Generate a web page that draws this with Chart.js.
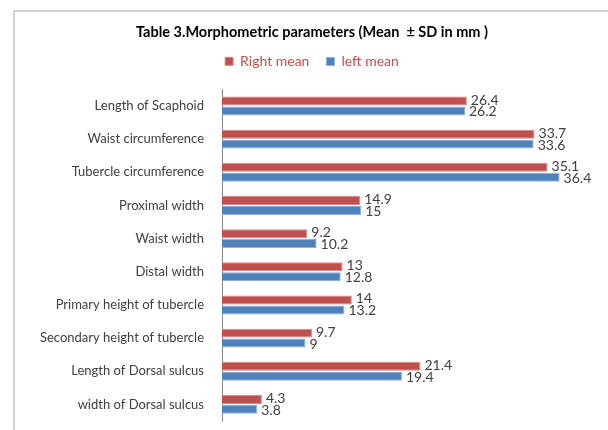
<!DOCTYPE html>
<html lang="en">
<head>
    <meta charset="UTF-8">
    <title>Morphometric parameters</title>
    <script src="https://cdn.jsdelivr.net/npm/chart.js"></script>
    <style>
        html, body { margin: 0; padding: 0; background: #fff; }
        #wrap {
            position: absolute; left: 13px; top: 10px;
            width: 595px; height: 420px;
            border-top: 2px solid #d4d4d4; border-left: 2px solid #d4d4d4;
        }
        #myChart { position: absolute; left: 0; top: 0; }
    </style>
</head>
<body>
    <div id="wrap"></div>
    <canvas id="myChart" width="608" height="430"></canvas>

    <script>
        const categories = [
            'Length of Scaphoid', 'Waist circumference', 'Tubercle circumference',
            'Proximal width', 'Waist width', 'Distal width',
            'Primary height of tubercle', 'Secondary height of tubercle',
            'Length of Dorsal sulcus', 'width of Dorsal sulcus'
        ];
        const rightMean = [26.4, 33.7, 35.1, 14.9, 9.2, 13, 14, 9.7, 21.4, 4.3];
        const leftMean = [26.2, 33.6, 36.4, 15, 10.2, 12.8, 13.2, 9, 19.4, 3.8];

        const fontFamily = 'Lato, "Open Sans", sans-serif';

        // value labels just past the end of each bar
        const valueLabels = {
            id: 'valueLabels',
            afterDatasetsDraw(chart) {
                const ctx = chart.ctx;
                ctx.save();
                ctx.font = '14px ' + fontFamily;
                ctx.fillStyle = '#404040';
                ctx.textAlign = 'left';
                ctx.textBaseline = 'middle';
                chart.data.datasets.forEach((ds, i) => {
                    const meta = chart.getDatasetMeta(i);
                    meta.data.forEach((bar, j) => {
                        const shift = i === 0 ? -1 : 1;
                        ctx.fillText(String(ds.data[j]), bar.x + 4, bar.y + shift);
                    });
                });
                ctx.restore();
            }
        };

        // a bit more room under the legend
        const legendGap = {
            id: 'legendGap',
            beforeInit(chart) {
                const fit = chart.legend.fit;
                chart.legend.fit = function () {
                    fit.bind(chart.legend)();
                    this.height += 11;
                };
            }
        };

        const ctx = document.getElementById('myChart').getContext('2d');
        new Chart(ctx, {
            type: 'bar',
            data: {
                labels: categories,
                datasets: [
                    {
                        label: 'Right mean',
                        data: rightMean,
                        backgroundColor: '#C0504D',
                        borderColor: '#d98a88',
                        borderWidth: 1
                    },
                    {
                        label: 'left mean',
                        data: leftMean,
                        backgroundColor: '#4F81BD',
                        borderColor: '#8eb0db',
                        borderWidth: 1
                    }
                ]
            },
            options: {
                indexAxis: 'y',
                responsive: false,
                animation: false,
                datasets: { bar: { categoryPercentage: 0.6, barPercentage: 0.9 } },
                layout: { padding: { left: 31, right: 15, top: 8, bottom: 9 } },
                plugins: {
                    title: {
                        display: true,
                        text: 'Table 3.Morphometric parameters (Mean  \u00B1 SD in mm )',
                        color: '#000',
                        font: { family: fontFamily, size: 14.5, weight: 'bold' },
                        padding: { top: 16, bottom: -4 }
                    },
                    legend: {
                        labels: {
                            color: '#C0504D',
                            boxWidth: 8,
                            boxHeight: 8,
                            font: { family: fontFamily, size: 14 },
                            padding: 17
                        }
                    },
                    tooltip: { enabled: false }
                },
                scales: {
                    x: {
                        display: false,
                        min: 0,
                        max: 40
                    },
                    y: {
                        grid: { display: false, drawTicks: false },
                        border: { color: '#868686', width: 1 },
                        ticks: {
                            color: '#404040',
                            padding: 18,
                            font: { family: fontFamily, size: 13 }
                        },
                        afterFit(scale) {
                            scale.width = 191;
                            scale.paddingTop = 0;
                            scale.paddingBottom = 0;
                        }
                    }
                }
            },
            plugins: [valueLabels, legendGap]
        });
    </script>
</body>
</html>
